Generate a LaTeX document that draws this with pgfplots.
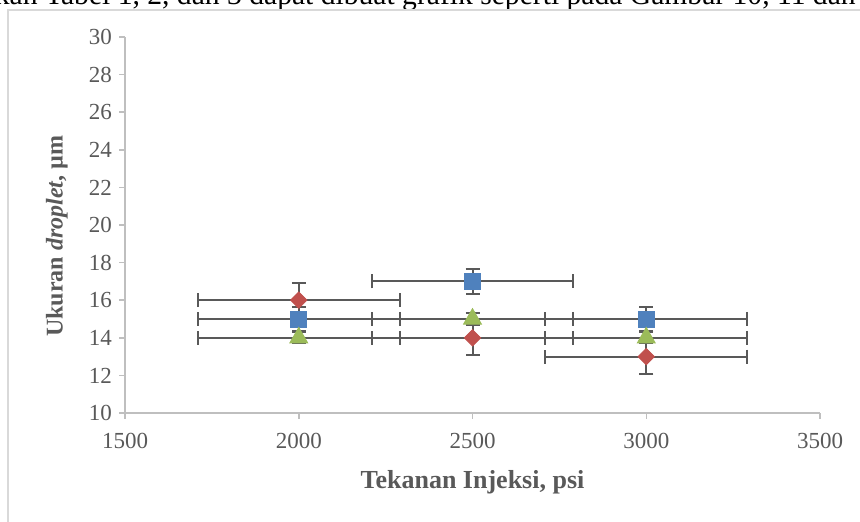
\documentclass[border=0pt]{standalone}
\usepackage{fontspec}
\setmainfont{Liberation Serif}
\usepackage{pgfplots}
\pgfplotsset{compat=1.18}
\definecolor{axisgray}{HTML}{BFBFBF}
\definecolor{framegray}{HTML}{D9D9D9}
\definecolor{tickgray}{HTML}{595959}
\definecolor{errgray}{HTML}{595959}
\definecolor{exblue}{HTML}{4F81BD}
\definecolor{exred}{HTML}{C0504D}
\definecolor{exgreen}{HTML}{9BBB59}
\begin{document}
\begin{tikzpicture}
\clip (0,0) rectangle (430pt,261pt);
\node[anchor=base east, inner sep=0pt, font=\fontsize{14.8}{17}\selectfont] at (428pt,258.5pt)
  {Berdasarkan Tabel 1, 2, dan 3 dapat dibuat grafik seperti pada Gambar 10, 11 dan};
\draw[framegray, line width=0.75pt] (4pt,-2pt) -- (4pt,256pt) -- (432pt,256pt);
\begin{axis}[
  at={(62.5pt,54.5pt)}, anchor=south west,
  scale only axis, width=347.5pt, height=188pt,
  xmin=1500, xmax=3500, ymin=10, ymax=30,
  xtick={1500,2000,2500,3000,3500},
  ytick={10,12,14,16,18,20,22,24,26,28,30},
  axis x line*=bottom, axis y line*=left,
  axis line style={draw=axisgray, line width=0.75pt, -},
  tick style={draw=axisgray, line width=0.75pt},
  major tick length=3pt, tick align=outside,
  ticklabel style={font=\fontsize{11.5}{13}\selectfont, text=tickgray},
  xticklabel style={yshift=-3.5pt},
  /pgf/number format/assume math mode=true,
  /pgf/number format/1000 sep={},
  xlabel={Tekanan Injeksi, psi},
  ylabel={Ukuran \textit{droplet}, µm},
  xlabel style={font=\bfseries\fontsize{13}{15}\selectfont, text=tickgray,
    at={(axis description cs:0.5,-0.183)}, anchor=center},
  ylabel style={font=\bfseries\fontsize{12}{14}\selectfont, text=tickgray,
    at={(axis description cs:-0.098,0.47)}, anchor=center},
  clip=false,
  error bars/error bar style={color=errgray, line width=1pt},
  error bars/error mark options={rotate=90, color=errgray, mark size=3.5pt, line width=1pt},
]
\addplot[only marks, mark=square*, mark size=4pt,
  mark options={fill=exblue, draw=exblue},
  error bars/.cd, x dir=both, x explicit, y dir=both, y explicit]
  coordinates {
    (2000,15) +- (290,0.65)
    (2500,17) +- (290,0.65)
    (3000,15) +- (290,0.65)
  };
\addplot[only marks, mark=square*, mark size=2.9pt,
  mark options={fill=exred, draw=exred, rotate=45},
  error bars/.cd, x dir=both, x explicit, y dir=both, y explicit]
  coordinates {
    (2000,16) +- (290,0.9)
    (2500,14) +- (290,0.9)
    (3000,13) +- (290,0.9)
  };
\addplot[only marks, mark=triangle*, mark size=5.2pt,
  mark options={fill=exgreen, draw=exgreen},
  error bars/.cd, x dir=both, x explicit, y dir=both, y explicit]
  coordinates {
    (2000,14) +- (290,0.3)
    (2500,15) +- (290,0.3)
    (3000,14) +- (290,0.3)
  };
\end{axis}
\end{tikzpicture}
\end{document}
